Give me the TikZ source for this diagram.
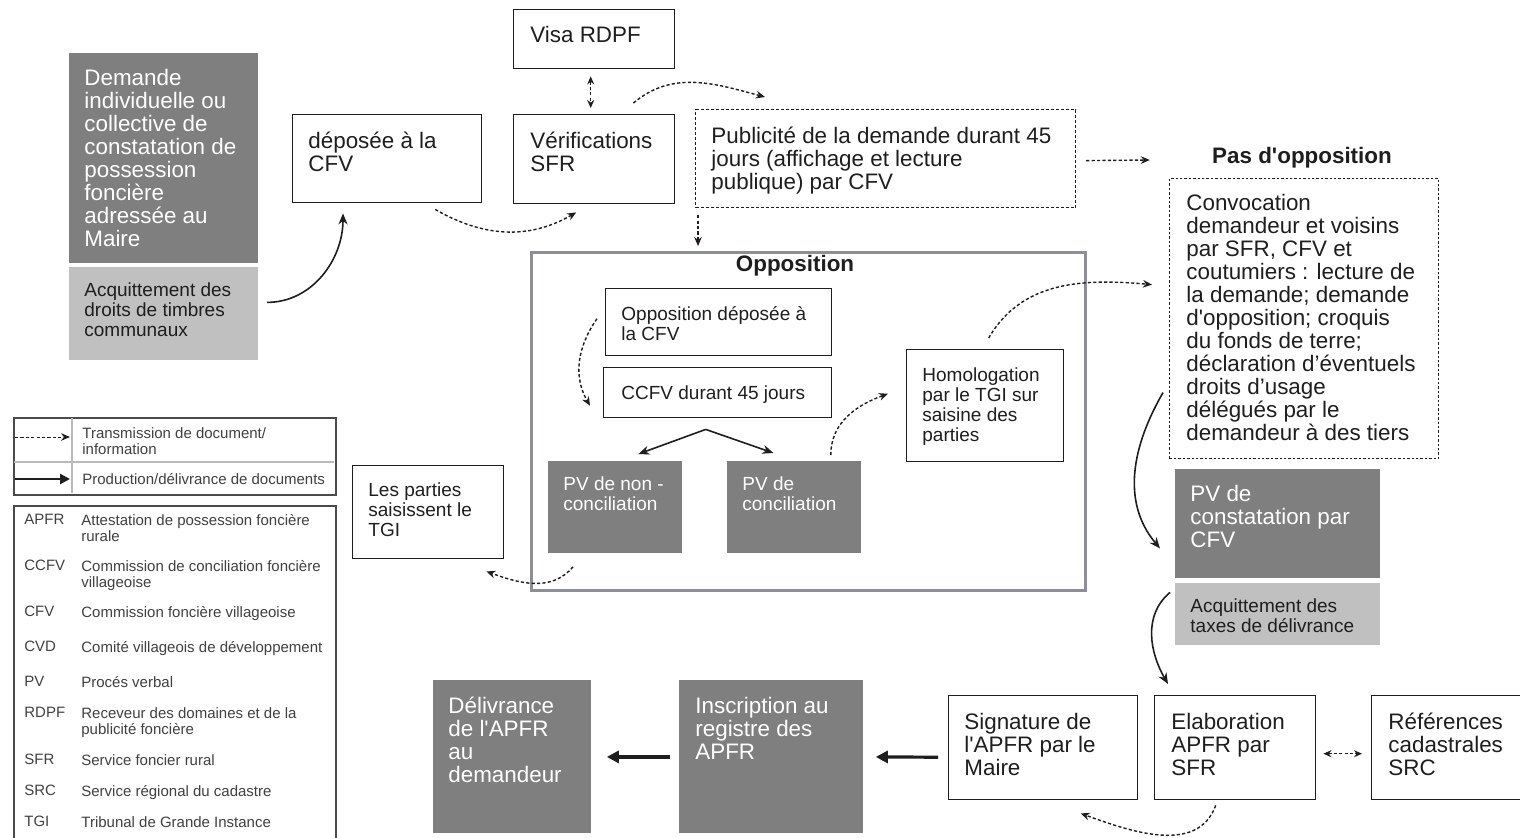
\documentclass[tikz,border=0pt]{standalone}
\usepackage{fontspec}
\setmainfont{Liberation Sans}[Ligatures=TeXOff]
\usepackage{tikz}
\usetikzlibrary{positioning, arrows.meta}
\usepackage{xcolor}
\definecolor{boxdark}{HTML}{7F7F7F}
\definecolor{boxlight}{HTML}{C0C0C0}
\definecolor{oppline}{HTML}{8E8E96}
\definecolor{ink}{HTML}{1E1E1E}

\begin{document}
\begin{tikzpicture}[x=0.5pt, y=-0.5pt,
   wbox/.style={draw=ink, line width=0.7pt, inner sep=0pt, anchor=north west},
   dashbox/.style={draw=ink, line width=0.6pt, dash pattern=on 1.5pt off 1pt, inner sep=0pt, anchor=north west},
   darkbox/.style={fill=boxdark, inner sep=0pt, anchor=north west},
   lightbox/.style={fill=boxlight, inner sep=0pt, anchor=north west},
   bigtxt/.style={align=left, inner sep=0pt, text=ink, font=\fontsize{11.2}{11.5}\selectfont},
   smalltxt/.style={align=left, inner sep=0pt, text=ink, font=\fontsize{9.5}{10}\selectfont},
   legtxt/.style={align=left, inner sep=0pt, anchor=north west, text=ink!85, font=\fontsize{7.5}{8}\selectfont},
   titletxt/.style={inner sep=0pt, text=ink, font=\fontsize{11.2}{11.5}\selectfont\bfseries},
   trans/.style={draw=ink, line width=0.7pt, dash pattern=on 1.6pt off 1.1pt, -{Stealth[length=4.5pt,width=3.8pt]}},
   trans2/.style={draw=ink, line width=0.7pt, dash pattern=on 1.6pt off 1.1pt, {Stealth[length=4pt,width=3.5pt]}-{Stealth[length=4pt,width=3.5pt]}},
   prod/.style={draw=ink, line width=0.8pt, -{Stealth[length=5.5pt,width=4.5pt]}},
   deliver/.style={draw=ink, line width=1.6pt, -{Triangle[length=6pt,width=6pt]}}]
   \useasboundingbox (0,0) rectangle (1520,837);

   % demande
   \node[darkbox, minimum width=94.5pt, minimum height=105pt] (dem) at (69,53) {};
   \node[bigtxt, text=white, below right=8pt and 7.5pt of dem.north west] (dem-t) {Demande\\individuelle ou\\collective de\\constatation de\\possession\\foncière\\adressée au\\Maire};
   \node[lightbox, minimum width=94.5pt, minimum height=46.5pt] (acq) at (69,267) {};
   \node[smalltxt, below right=7.75pt and 7.5pt of acq.north west] (acq-t) {Acquittement des\\droits de timbres\\communaux};

   % haut
   \node[wbox, minimum width=94.5pt, minimum height=44pt] (depose) at (292,114) {};
   \node[bigtxt, below right=9pt and 8pt of depose.north west] (depose-t) {déposée à la\\CFV};
   \node[wbox, minimum width=80.5pt, minimum height=29.5pt] (visa) at (513,9) {};
   \node[bigtxt, below right=8.5pt and 8.5pt of visa.north west] (visa-t) {Visa RDPF};
   \node[wbox, minimum width=80.5pt, minimum height=44.5pt] (verif) at (513,114) {};
   \node[bigtxt, below right=9pt and 8.5pt of verif.north west] (verif-t) {Vérifications\\SFR};
   \node[dashbox, minimum width=190pt, minimum height=49pt] (publi) at (695,109) {};
   \node[bigtxt, below right=9pt and 8pt of publi.north west] (publi-t) {Publicité de la demande durant 45\\jours (affichage et lecture\\publique) par CFV};

   % opposition
   \node[draw=oppline, line width=1.5pt, inner sep=0pt, anchor=north west, minimum width=277pt, minimum height=169pt] (oppbox) at (530,251) {};
   \node[titletxt] (opp-t) at (795,266) {Opposition};
   \node[wbox, minimum width=113pt, minimum height=33.5pt] (oppdep) at (605,288) {};
   \node[smalltxt, below right=9.25pt and 8pt of oppdep.north west] (oppdep-t) {Opposition déposée à\\la CFV};
   \node[wbox, minimum width=114pt, minimum height=25pt] (ccfv) at (603,367) {};
   \node[smalltxt, below right=9.25pt and 9pt of ccfv.north west] (ccfv-t) {CCFV durant 45 jours};
   \node[darkbox, minimum width=67pt, minimum height=46pt] (pvnon) at (548,461) {};
   \node[smalltxt, text=white, below right=7.75pt and 7.5pt of pvnon.north west] (pvnon-t) {PV de non -\\conciliation};
   \node[darkbox, minimum width=67pt, minimum height=46pt] (pvconc) at (727,461) {};
   \node[smalltxt, text=white, below right=7.75pt and 7.5pt of pvconc.north west] (pvconc-t) {PV de\\conciliation};
   \node[wbox, minimum width=78.5pt, minimum height=56pt] (homol) at (906,349) {};
   \node[smalltxt, below right=9.25pt and 8pt of homol.north west] (homol-t) {Homologation\\par le TGI sur\\saisine des\\parties};
   \node[wbox, minimum width=75.5pt, minimum height=46.5pt] (parties) at (352,465) {};
   \node[smalltxt, below right=8.75pt and 8pt of parties.north west] (parties-t) {Les parties\\saisissent le\\TGI};

   % pas d'opposition
   \node[titletxt] (pasopp) at (1302,158) {Pas d'opposition};
   \node[draw=ink, line width=0.6pt, dash pattern=on 1.2pt off 1pt, inner sep=0pt, anchor=north west, minimum width=134.5pt, minimum height=140pt] (convoc) at (1169,178) {};
   \node[bigtxt, below right=8pt and 8.5pt of convoc.north west] (convoc-t) {Convocation\\demandeur et voisins\\par SFR, CFV et\\coutumiers : lecture de\\la demande; demande\\d'opposition; croquis\\du fonds de terre;\\déclaration d’éventuels\\droits d’usage\\délégués par le\\demandeur à des tiers};
   \node[darkbox, minimum width=102.5pt, minimum height=54.5pt] (pvconst) at (1175,469) {};
   \node[bigtxt, text=white, below right=8pt and 7.5pt of pvconst.north west] (pvconst-t) {PV de\\constatation par\\CFV};
   \node[lightbox, minimum width=102.5pt, minimum height=31pt] (acqtax) at (1175,583) {};
   \node[smalltxt, below right=7.75pt and 7.5pt of acqtax.north west] (acqtax-t) {Acquittement des\\taxes de délivrance};

   % bas
   \node[wbox, minimum width=94.5pt, minimum height=52pt] (sign) at (948,695) {};
   \node[bigtxt, below right=9pt and 8pt of sign.north west] (sign-t) {Signature de\\l'APFR par le\\Maire};
   \node[wbox, minimum width=80.5pt, minimum height=52pt] (elab) at (1154,695) {};
   \node[bigtxt, below right=9pt and 8.5pt of elab.north west] (elab-t) {Elaboration\\APFR par\\SFR};
   \node[wbox, minimum width=80pt, minimum height=52pt] (refs) at (1371,695) {};
   \node[bigtxt, below right=9pt and 8.5pt of refs.north west] (refs-t) {Références\\cadastrales\\SRC};
   \node[darkbox, minimum width=92pt, minimum height=76.5pt] (inscr) at (679,680) {};
   \node[bigtxt, text=white, below right=8.5pt and 8pt of inscr.north west] (inscr-t) {Inscription au\\registre des\\APFR};
   \node[darkbox, minimum width=79pt, minimum height=76.5pt] (deliv) at (433,680) {};
   \node[bigtxt, text=white, below right=8.5pt and 7.5pt of deliv.north west] (deliv-t) {Délivrance\\de l'APFR\\au\\demandeur};

   % connecteurs
   \draw[prod] ([shift={(4pt,5.75pt)}]acq.east) to[out=0,in=-90] ([shift={(25.5pt,-5pt)}]depose.south west);
   \draw[trans] ([shift={(24pt,-3pt)}]depose.south) to[out=-30,in=-150] ([shift={(-9pt,-4pt)}]verif.south);
   \draw[trans2] ([shift={(-1.75pt,-3.5pt)}]visa.south) -- ([shift={(-1.75pt,3pt)}]verif.north);
   \draw[trans] ([shift={(-21pt,5.5pt)}]verif.north east) to[out=40,in=165] ([shift={(35pt,6pt)}]publi.north west);
   \draw[trans] ([shift={(1.5pt,-3.5pt)}]publi.south west) -- ([shift={(84pt,2.5pt)}]oppbox.north west);
   \draw[trans] ([shift={(5pt,-1pt)}]publi.east) -- ([shift={(-31pt,-1pt)}]pasopp.west);
   \draw[trans] ([shift={(-4pt,1.75pt)}]oppdep.west) to[out=235,in=120] ([shift={(-6.5pt,-6.5pt)}]ccfv.west);
   \coordinate (fork) at ([shift={(-6pt,-5.5pt)}]ccfv.south);
   \draw[prod] (fork) -- ([shift={(11.5pt,3.5pt)}]pvnon.north);
   \draw[prod] (fork) -- ([shift={(-10.5pt,4pt)}]pvconc.north);
   \draw[trans] ([shift={(-15.5pt,3pt)}]pvconc.north east) to[out=90,in=200] ([shift={(-9pt,6pt)}]homol.west);
   \draw[trans] ([shift={(1.75pt,5.5pt)}]homol.north) to[out=60,in=175] ([shift={(-8.5pt,17pt)}]convoc.west);
   \draw[trans] ([shift={(12.5pt,-6.5pt)}]pvnon.south west) to[out=-130,in=-20] ([shift={(-9pt,-6pt)}]parties.south east);
   \draw[prod] ([shift={(-3pt,-37pt)}]convoc.west) to[out=240,in=130] ([shift={(-7.5pt,-12.25pt)}]pvconst.west);
   \draw[prod] ([shift={(-2.5pt,11pt)}]acqtax.west) to[out=220,in=120] ([shift={(7pt,5.5pt)}]elab.north west);
   \draw[trans2] ([shift={(3.5pt,-3pt)}]elab.east) -- ([shift={(-4.5pt,-3pt)}]refs.west);
   \draw[trans] ([shift={(-9.75pt,-2.5pt)}]elab.south) to[out=-110,in=-20] ([shift={(18.75pt,-6.5pt)}]sign.south);
   \draw[deliver] ([shift={(-5pt,-4.75pt)}]sign.west) -- ([xshift=6pt]inscr.east);
   \draw[deliver] ([xshift=-4.5pt]inscr.west) -- ([xshift=7.5pt]deliv.east);

   % legende
   \node[draw=ink!80, line width=0.8pt, inner sep=0pt, anchor=north west, minimum width=161pt, minimum height=38.5pt] (leg1) at (13,417) {};
   \draw[gray!55, line width=0.6pt] (72,418) -- (72,493);
   \draw[gray!55, line width=0.6pt] (14,462) -- (334,462);
   \coordinate (ltrans-a) at (15,437);
   \coordinate (ltrans-b) at (70,437);
   \coordinate (lprod-a) at (15,479);
   \coordinate (lprod-b) at (70,479);
   \draw[trans, line width=0.5pt] (ltrans-a) -- (ltrans-b);
   \draw[draw=ink, line width=1.3pt, -{Triangle[length=5pt,width=5pt]}] (lprod-a) -- (lprod-b);
   \node[legtxt] (ltrans-t) at (82,427) {Transmission de document/\\information};
   \node[legtxt] (lprod-t) at (82,473) {Production/délivrance de documents};

   \node[draw=ink!80, line width=0.8pt, inner sep=0pt, anchor=north west, minimum width=161pt, minimum height=180pt] (leg2) at (13,505) {};
   \foreach \ab/\yy/\desc in {APFR/514/{Attestation de possession foncière\\rurale},
      CCFV/560/{Commission de conciliation foncière\\villageoise},
      CFV/606/{Commission foncière villageoise},
      CVD/641/{Comité villageois de développement},
      PV/676/{Procés verbal},
      RDPF/707/{Receveur des domaines et de la\\publicité foncière},
      SFR/754/{Service foncier rural},
      SRC/785/{Service régional du cadastre},
      TGI/816/{Tribunal de Grande Instance}}{
      \node[legtxt] (ab-\ab) at (24,\yy) {\ab};
      \node[legtxt] (def-\ab) at (81,\yy) {\desc};
   }
\end{tikzpicture}
\end{document}
